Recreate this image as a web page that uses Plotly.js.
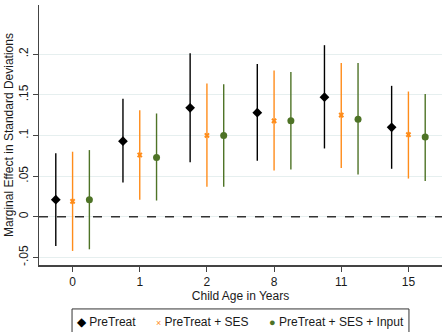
<!DOCTYPE html>
<html><head><meta charset="utf-8">
<script src="https://cdn.plot.ly/plotly-3.0.1.min.js"></script>
<style>html,body{margin:0;padding:0;background:#fff}#c{width:442px;height:332px}</style>
</head><body><div id="c"></div>
<script>
var ages = ['0','1','2','8','11','15'];
var preVal = [0.021, 0.093, 0.134, 0.128, 0.147, 0.110];
var preHi  = [0.078, 0.145, 0.201, 0.188, 0.211, 0.161];
var preLo  = [-0.036, 0.042, 0.067, 0.069, 0.084, 0.059];
var sesVal = [0.019, 0.076, 0.100, 0.118, 0.125, 0.101];
var sesHi  = [0.080, 0.131, 0.164, 0.180, 0.189, 0.154];
var sesLo  = [-0.042, 0.021, 0.037, 0.057, 0.060, 0.047];
var inpVal = [0.021, 0.073, 0.100, 0.118, 0.120, 0.098];
var inpHi  = [0.082, 0.127, 0.163, 0.178, 0.189, 0.151];
var inpLo  = [-0.040, 0.020, 0.037, 0.058, 0.052, 0.044];
var yTicks = [-0.05, 0, 0.05, 0.1, 0.15, 0.2];
var yTickText = ['-.05', '0', '.05', '.1', '.15', '.2'];
var seriesNames = ['PreTreat', 'PreTreat + SES', 'PreTreat + SES + Input'];
var colors = ['#000000', '#ff8c1a', '#4e7326'];

function pos(off){ return ages.map(function(_, i){ return i + off; }); }
function up(v, h){ return v.map(function(x, i){ return h[i] - x; }); }
function dn(v, l){ return v.map(function(x, i){ return x - l[i]; }); }

var font = {family: 'Liberation Sans, Arial, sans-serif', size: 12, color: '#1a1a1a'};
function tr(k, off, v, h, l, sym, size){
  return {type: 'scatter', mode: 'markers', name: seriesNames[k], x: pos(off), y: v,
    marker: {color: colors[k], symbol: sym, size: size, line: {width: 0}},
    error_y: {type: 'data', symmetric: false, array: up(v, h), arrayminus: dn(v, l),
      color: colors[k], thickness: 1.4, width: 0}};
}
var data = [
  tr(0, -0.25, preVal, preHi, preLo, 'diamond', 7.5),
  tr(1, 0, sesVal, sesHi, sesLo, 'x', 5),
  tr(2, 0.25, inpVal, inpHi, inpLo, 'circle', 7)
];

// legend drawn as a framed row of text entries
var legX = [0.089, 0.285, 0.565];
var legGlyph = ['\u25C6', '\u00D7', '\u25CF'];
var legSize = [12, 9, 11];
var annotations = seriesNames.map(function(n, k){
  return {xref: 'paper', yref: 'paper', x: legX[k], y: -0.218, xanchor: 'left', yanchor: 'middle',
    showarrow: false, font: font,
    text: '<span style="color:' + colors[k] + ';font-size:' + legSize[k] + 'px">' + legGlyph[k] + '</span> ' + n};
});
var layout = {
  width: 442, height: 332, font: font,
  paper_bgcolor: '#fff', plot_bgcolor: '#fff',
  margin: {l: 39, r: 0, t: 5, b: 67},
  showlegend: false,
  annotations: annotations,
  xaxis: {range: [-0.5, 5.5], tickvals: pos(0), ticktext: ages, showgrid: false, zeroline: false,
    showline: true, linecolor: '#444', linewidth: 1.5, ticks: 'outside', ticklen: 5, tickcolor: '#444',
    title: {text: 'Child Age in Years', font: font, standoff: 0}},
  yaxis: {range: [-0.0593, 0.2604], tickvals: yTicks, ticktext: yTickText, tickangle: -90,
    showgrid: true, gridcolor: '#e6efef', gridwidth: 1, zeroline: false,
    showline: true, linecolor: '#444', linewidth: 1.5, ticks: 'outside', ticklen: 5, tickcolor: '#444',
    title: {text: 'Marginal Effect in Standard Deviations', font: font, standoff: 0}},
  shapes: [
    {type: 'line', xref: 'paper', x0: 0, x1: 1, yref: 'y', y0: 0, y1: 0,
      line: {color: '#333', width: 1.3, dash: 'dash'}},
    {type: 'rect', xref: 'paper', yref: 'paper', x0: 0.082, x1: 0.918, y0: -0.26, y1: -0.169,
      line: {color: '#333', width: 1}, fillcolor: 'rgba(0,0,0,0)'}
  ]
};
Plotly.newPlot('c', data, layout, {displayModeBar: false, staticPlot: true});
</script></body></html>
